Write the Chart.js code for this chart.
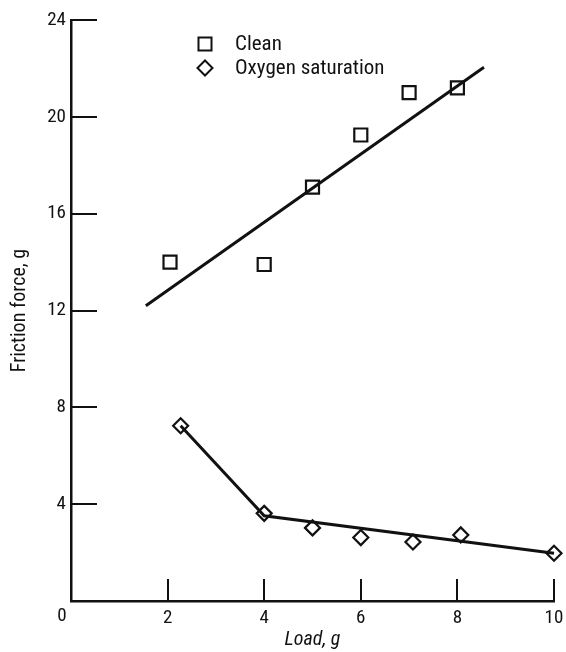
<!DOCTYPE html>
<html>
<head>
<meta charset="utf-8">
<script src="https://cdn.jsdelivr.net/npm/chart.js@4"></script>
<style>
  html, body { margin: 0; padding: 0; background: #fff; }
  #wrap { width: 566px; height: 652px; }
</style>
</head>
<body>
<div id="wrap"><canvas id="chart" width="566" height="652"></canvas></div>
<script>
// data
const cleanLoad = [2.05, 4.0, 5.0, 6.0, 7.0, 8.0];
const cleanForce = [14.0, 13.9, 17.1, 19.25, 21.0, 21.2];
const oxyLoad = [2.27, 4.0, 5.0, 6.0, 7.08, 8.07, 10.0];
const oxyForce = [7.24, 3.62, 3.02, 2.62, 2.44, 2.73, 1.97];
// hand-drawn fair lines
const cleanFitLoad = [1.55, 8.55];
const cleanFitForce = [12.2, 22.05];
const oxyFitLoad = [2.27, 4.0, 10.0];
const oxyFitForce = [7.24, 3.52, 1.97];
const xTicks = [0, 2, 4, 6, 8, 10];
const yTicks = [4, 8, 12, 16, 20, 24];

const FONT = "'Roboto Condensed', 'DejaVu Sans Condensed', sans-serif";
const INK = "#111";

function pts(xs, ys) {
  return xs.map((x, i) => ({ x: x, y: ys[i] }));
}

// inward tick marks, like the original figure
const innerTicks = {
  id: "innerTicks",
  afterDraw(chart) {
    const ctx = chart.ctx;
    const xScale = chart.scales.x;
    const yScale = chart.scales.y;
    const area = chart.chartArea;
    ctx.save();
    ctx.fillStyle = INK;
    for (let i = 1; i < xTicks.length; i++) {
      const px = xScale.getPixelForValue(xTicks[i]);
      ctx.fillRect(Math.round(px) - 1, area.bottom - 22, 2, 22);
    }
    yTicks.forEach((v) => {
      const py = yScale.getPixelForValue(v);
      ctx.fillRect(area.left, Math.round(py) - 1, 26, 2);
    });
    // the shared origin label sits a bit left of the corner
    ctx.font = "19px " + FONT;
    ctx.textAlign = "center";
    ctx.textBaseline = "top";
    ctx.fillText("0", xScale.getPixelForValue(0) - 9, area.bottom + 6);
    ctx.restore();
  },
};

// symbol key in the upper part of the plot
const keyBox = {
  id: "keyBox",
  afterDraw(chart) {
    const ctx = chart.ctx;
    const area = chart.chartArea;
    const items = [
      { label: "Clean", style: "rect", r: 9.2 },
      { label: "Oxygen saturation", style: "rectRot", r: 7.5 },
    ];
    ctx.save();
    ctx.font = "21px " + FONT;
    ctx.textBaseline = "middle";
    items.forEach((it, i) => {
      const cx = area.left + 134;
      const cy = area.top + 24 + i * 24;
      ctx.strokeStyle = INK;
      ctx.lineWidth = 2;
      ctx.fillStyle = "#fff";
      Chart.helpers.drawPoint(ctx, { pointStyle: it.style, radius: it.r, borderWidth: 2 }, cx, cy);
      ctx.fillStyle = INK;
      ctx.fillText(it.label, cx + 30, cy + 1);
    });
    ctx.restore();
  },
};

new Chart(document.getElementById("chart"), {
  type: "scatter",
  data: {
    datasets: [
      {
        label: "Clean fit",
        data: pts(cleanFitLoad, cleanFitForce),
        showLine: true,
        borderColor: INK,
        borderWidth: 3,
        pointRadius: 0,
        clip: false,
      },
      {
        label: "Oxygen fit",
        data: pts(oxyFitLoad, oxyFitForce),
        showLine: true,
        borderColor: INK,
        borderWidth: 3,
        pointRadius: 0,
        clip: false,
      },
      {
        label: "Clean",
        data: pts(cleanLoad, cleanForce),
        pointStyle: "rect",
        pointRadius: 9.2,
        pointBorderWidth: 2.2,
        borderColor: INK,
        backgroundColor: "#fff",
        clip: false,
      },
      {
        label: "Oxygen saturation",
        data: pts(oxyLoad, oxyForce),
        pointStyle: "rectRot",
        pointRadius: 7.5,
        pointBorderWidth: 2.2,
        borderColor: INK,
        backgroundColor: "#fff",
        clip: false,
      },
    ],
  },
  options: {
    responsive: false,
    animation: false,
    layout: { padding: { top: 20, right: 12, left: 0, bottom: 0 } },
    plugins: {
      legend: { display: false },
      tooltip: { enabled: false },
    },
    scales: {
      x: {
        type: "linear",
        min: 0,
        max: 10,
        afterBuildTicks: (s) => { s.ticks = xTicks.map((v) => ({ value: v })); },
        afterFit: (s) => { s.height = 51; s.paddingRight = 0; s.paddingLeft = 0; },
        grid: { drawOnChartArea: false, drawTicks: false },
        border: { display: true, color: INK, width: 2.5 },
        ticks: {
          color: INK,
          padding: 6,
          font: { family: FONT, size: 19 },
          callback: (v) => (v === 0 ? "" : v),
        },
        title: {
          display: true,
          text: "Load, g",
          color: INK,
          padding: { top: 0, bottom: 0 },
          font: { family: FONT, size: 20, style: "italic" },
        },
      },
      y: {
        type: "linear",
        min: 0,
        max: 24,
        afterBuildTicks: (s) => { s.ticks = yTicks.map((v) => ({ value: v })); },
        afterFit: (s) => { s.width = 71; },
        grid: { drawOnChartArea: false, drawTicks: false },
        border: { display: true, color: INK, width: 2.5 },
        ticks: {
          color: INK,
          padding: 5,
          font: { family: FONT, size: 19 },
        },
        title: {
          display: true,
          text: "Friction force, g",
          color: INK,
          padding: { top: 8, bottom: 0 },
          font: { family: FONT, size: 20 },
        },
      },
    },
  },
  plugins: [innerTicks, keyBox],
});
</script>
</body>
</html>
